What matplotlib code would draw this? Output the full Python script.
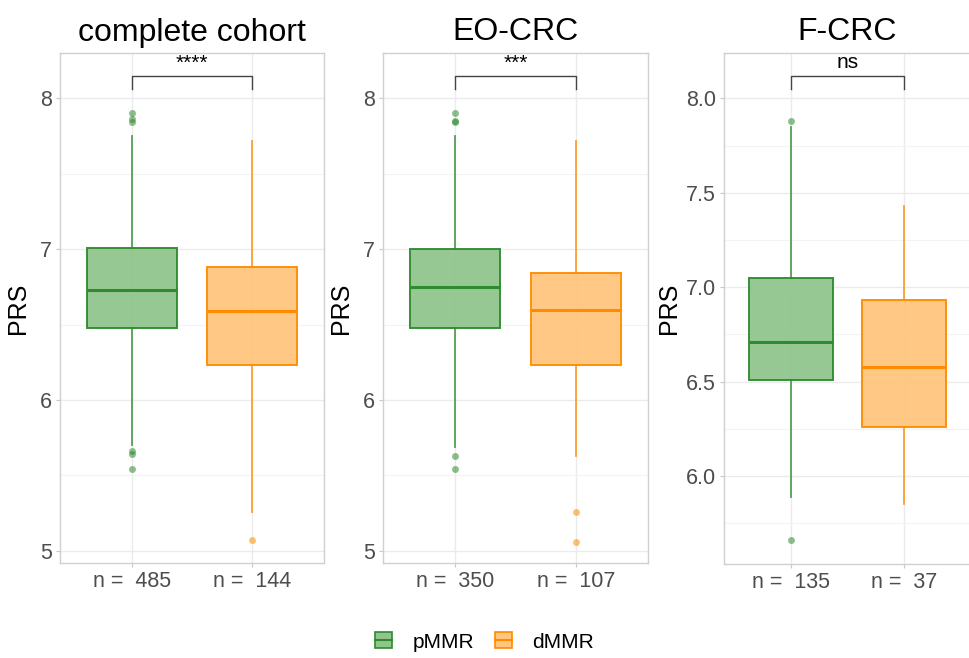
import matplotlib
matplotlib.use("Agg")
import matplotlib.pyplot as plt
from matplotlib.patches import Patch
from matplotlib.lines import Line2D
from matplotlib.legend_handler import HandlerTuple
from matplotlib.ticker import MultipleLocator, FormatStrFormatter

plt.rcParams['font.family'] = ['Liberation Sans', 'DejaVu Sans']

# data
cohorts = ["complete cohort", "EO-CRC", "F-CRC"]
groups = ["pMMR", "dMMR"]
n_counts = [[485, 144], [350, 107], [135, 37]]
q1 = [[6.48, 6.23], [6.48, 6.23], [6.51, 6.26]]
med = [[6.73, 6.59], [6.75, 6.60], [6.71, 6.58]]
q3 = [[7.01, 6.88], [7.00, 6.84], [7.05, 6.93]]
whislo = [[5.70, 5.26], [5.69, 5.63], [5.89, 5.85]]
whishi = [[7.75, 7.72], [7.75, 7.72], [7.85, 7.43]]
outliers = [[[7.90, 7.86, 7.84, 5.66, 5.64, 5.54], [5.07]],
            [[7.90, 7.85, 7.84, 5.63, 5.54], [5.26, 5.06]],
            [[7.88, 5.66], []]]
signif = ["****", "***", "ns"]

edge_cols = ["#2e8b2e", "#ff8c00"]
fill_cols = ["#91c58e", "#ffc57f"]

W, H = 969, 658
fig = plt.figure(figsize=(W / 100, H / 100), dpi=100)

# panel boxes in pixels: left, right, top, bottom
panels = [(60, 324, 53, 563), (383, 648, 53, 563), (724, 971, 53, 564)]
ylims = [(4.92, 8.30), (4.92, 8.30), (5.535, 8.24)]

for i, (l, r, t, b) in enumerate(panels):
    ax = fig.add_axes([l / W, (H - b) / H, (r - l) / W, (b - t) / H])
    stats = []
    for g in range(2):
        stats.append(dict(med=med[i][g], q1=q1[i][g], q3=q3[i][g],
                          whislo=whislo[i][g], whishi=whishi[i][g],
                          fliers=outliers[i][g]))
    ax.set_axisbelow(True)
    for g in range(2):
        ax.bxp([stats[g]], positions=[g + 1], widths=0.75, patch_artist=True,
               showcaps=False,
               boxprops=dict(facecolor=fill_cols[g], edgecolor=edge_cols[g], linewidth=1.4, alpha=0.95),
               whiskerprops=dict(color=edge_cols[g], linewidth=1.3, alpha=0.8),
               medianprops=dict(color=edge_cols[g], linewidth=2.2),
               flierprops=dict(marker='o', markerfacecolor=edge_cols[g], markeredgecolor='none',
                               markersize=5, alpha=0.55),
               zorder=3)

    ax.set_xlim(0.4, 2.6)
    ax.set_ylim(*ylims[i])
    ax.set_xticks([1, 2])
    ax.set_xticklabels(["n =  %d" % n for n in n_counts[i]])
    if i < 2:
        ax.yaxis.set_major_locator(MultipleLocator(1))
        ax.yaxis.set_minor_locator(MultipleLocator(0.5))
        ax.yaxis.set_major_formatter(FormatStrFormatter('%d'))
    else:
        ax.yaxis.set_major_locator(MultipleLocator(0.5))
        ax.yaxis.set_minor_locator(MultipleLocator(0.25))
        ax.yaxis.set_major_formatter(FormatStrFormatter('%.1f'))

    ax.grid(True, which='major', color='#ebebeb', linewidth=1.0, zorder=0)
    ax.grid(True, which='minor', axis='y', color='#f3f3f3', linewidth=0.8, zorder=0)
    for sp in ax.spines.values():
        sp.set_color('#d0d0d0')
        sp.set_linewidth(1.0)
    ax.tick_params(which='major', length=3, color='#c8c8c8', labelsize=15.5,
                   labelcolor='#4d4d4d', pad=3)
    ax.tick_params(which='minor', length=0)
    ax.set_title(cohorts[i], fontsize=23, pad=9)
    ax.set_ylabel("PRS", fontsize=18, labelpad=7 if i < 2 else 3)

    # significance bracket
    tr = ax.get_xaxis_transform()
    ax.plot([1, 1, 2, 2], [0.929, 0.955, 0.955, 0.929], color='#444444',
            linewidth=1.0, transform=tr, clip_on=False)
    ax.text(1.5, 0.962, signif[i], transform=tr, ha='center', va='bottom', fontsize=15)

# legend keys: box with a median line through it
handles = []
for g in range(2):
    handles.append((Patch(facecolor=fill_cols[g], edgecolor=edge_cols[g], linewidth=1.2),
                    Line2D([], [], color=edge_cols[g], linewidth=1.5)))
fig.legend(handles, groups, loc='center', bbox_to_anchor=(0.5, (H - 642) / H), ncol=2,
           frameon=False, fontsize=15, handlelength=0.8, handleheight=0.8,
           handletextpad=1.0, columnspacing=1.0,
           handler_map={tuple: HandlerTuple(ndivide=1)})

fig.savefig("out.png", dpi=100)
